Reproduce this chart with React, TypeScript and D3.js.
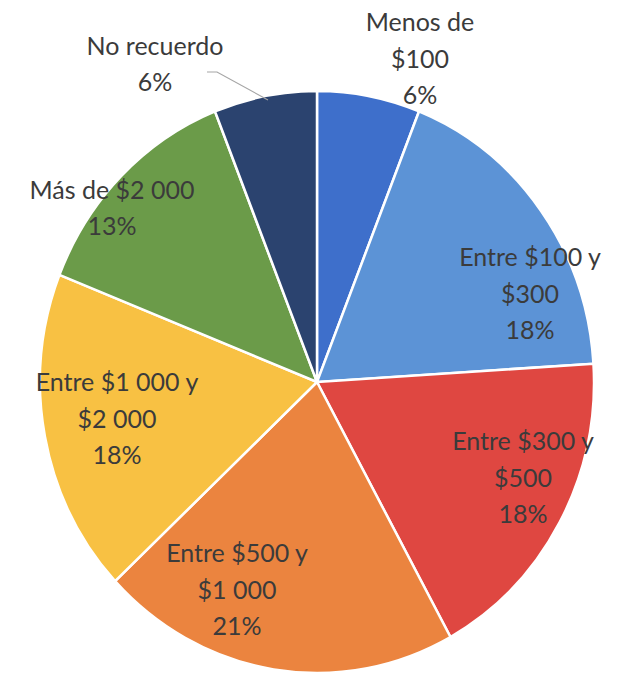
import React from "react";
import * as d3 from "d3";

const categories = [
  "Menos de $100",
  "Entre $100 y $300",
  "Entre $300 y $500",
  "Entre $500 y $1 000",
  "Entre $1 000 y $2 000",
  "Más de $2 000",
  "No recuerdo",
];
const values = [6, 18, 18, 21, 18, 13, 6];
const colors = ["#3e6fcb", "#5c93d6", "#df4741", "#eb843f", "#f8c143", "#6b9b49", "#2b436f"];

// label layout (wrapped lines and block centers)
const labelLines = [
  ["Menos de", "$100"],
  ["Entre $100 y", "$300"],
  ["Entre $300 y", "$500"],
  ["Entre $500 y", "$1 000"],
  ["Entre $1 000 y", "$2 000"],
  ["Más de $2 000"],
  ["No recuerdo"],
];
const labelCenters: [number, number][] = [
  [420, 59],
  [530, 294],
  [523, 478],
  [237, 590],
  [117, 419],
  [112, 208],
  [155, 64],
];

const W = 618;
const H = 676;
const CX = 317;
const CY = 382;
const RX = 277;
const RY = 291;
const LINE_H = 36.5;

export default function App() {
  const pie = d3.pie<number>().sort(null).value((d) => d)(values);
  const arc = d3.arc<d3.PieArcDatum<number>>().innerRadius(0).outerRadius(RX);
  const total = d3.sum(values);

  return (
    <svg
      width={W}
      height={H}
      style={{ position: "absolute", left: 0, top: 0, background: "#fff" }}
    >
      <g transform={`translate(${CX},${CY}) scale(1,${RY / RX})`}>
        {pie.map((p, i) => (
          <path
            key={i}
            d={arc(p) || ""}
            fill={colors[i]}
            stroke="#fff"
            strokeWidth={2.5}
            vectorEffect="non-scaling-stroke"
          />
        ))}
      </g>
      <polyline
        points="207,72 217,72 268,100"
        fill="none"
        stroke="#a6a6a6"
        strokeWidth={1.2}
      />
      {labelLines.map((lines, i) => {
        const all = [...lines, `${Math.round((values[i] / total) * 100)}%`];
        const [x, y] = labelCenters[i];
        const y0 = y - ((all.length - 1) * LINE_H) / 2;
        return (
          <text
            key={i}
            x={x}
            textAnchor="middle"
            fontFamily="Lato, 'Open Sans', sans-serif"
            fontSize={25}
            fill="#3b3b3b"
            aria-label={categories[i]}
          >
            {all.map((t, j) => (
              <tspan key={j} x={x} y={y0 + j * LINE_H} dy="0.35em">
                {t}
              </tspan>
            ))}
          </text>
        );
      })}
    </svg>
  );
}
